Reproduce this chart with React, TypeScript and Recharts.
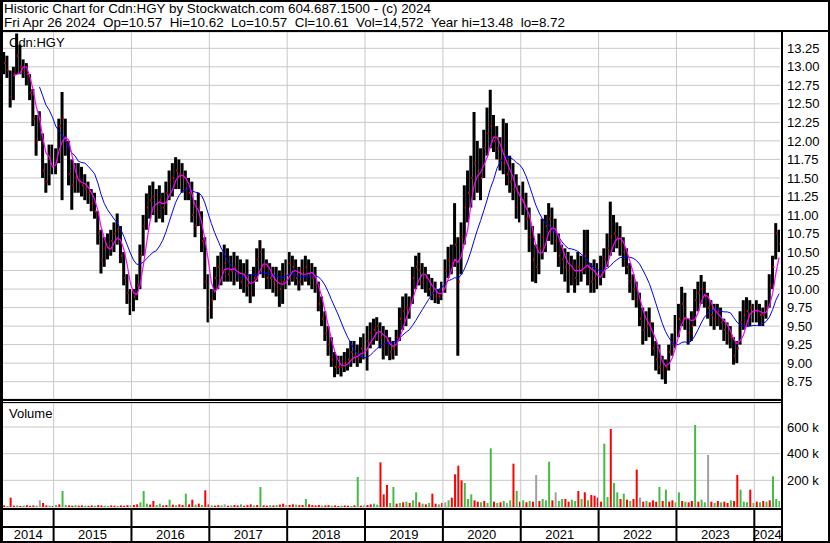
import {
  ComposedChart,
  Bar,
  Line,
  XAxis,
  YAxis,
  CartesianGrid,
  ReferenceLine,
  Cell,
} from "recharts";

// half-month bars, May 2014 .. Apr 2024
const START = 2014.36;
const STEP = 1 / 24;
const DOMAIN: [number, number] = [2014.35, 2024.33];

const HIGH = [
  13.2, 13.15, 12.95, 13.0, 13.45, 13.3, 13.1, 13.05, 12.9, 12.7, 12.35, 12.4, 12.1, 11.7, 11.95, 11.95, 11.9, 12.3, 12.66, 12.3, 12.0, 11.75, 11.7, 11.7,
  11.65, 11.55, 11.45, 11.35, 11.3, 11.05, 10.8, 10.7, 10.75, 10.8, 10.9, 11.02, 10.85, 10.5, 10.2, 10.0, 10.0, 10.2, 10.6, 11.0, 11.29, 11.4, 11.45, 11.35,
  11.4, 11.3, 11.45, 11.6, 11.7, 11.78, 11.75, 11.7, 11.6, 11.5, 11.45, 11.2, 11.3, 11.05, 10.7, 10.2, 10.0, 10.3, 10.45, 10.5, 10.6, 10.55, 10.45, 10.5,
  10.45, 10.4, 10.35, 10.4, 10.2, 10.3, 10.55, 10.66, 10.55, 10.4, 10.35, 10.3, 10.3, 10.25, 10.35, 10.4, 10.5, 10.45, 10.4, 10.3, 10.4, 10.45, 10.4, 10.35,
  10.3, 10.1, 9.9, 9.7, 9.5, 9.35, 9.15, 9.1, 9.1, 9.15, 9.2, 9.3, 9.3, 9.25, 9.35, 9.4, 9.5, 9.55, 9.6, 9.62, 9.55, 9.5, 9.45, 9.35,
  9.3, 9.45, 9.75, 9.9, 9.94, 9.9, 10.3, 10.45, 10.49, 10.35, 10.3, 10.2, 10.15, 10.1, 10.0, 10.1, 10.4, 10.57, 10.6, 11.16, 10.7, 10.9, 11.4, 11.6,
  11.8, 12.39, 12.0, 11.9, 12.15, 12.45, 12.69, 12.35, 12.2, 12.05, 12.3, 12.24, 11.8, 11.7, 11.55, 11.4, 11.45, 11.3, 11.1, 10.85, 10.6, 10.75, 10.95, 11.0,
  11.16, 11.1, 10.95, 10.75, 10.6, 10.55, 10.5, 10.45, 10.4, 10.5, 10.45, 10.8, 10.8, 10.35, 10.4, 10.35, 10.45, 10.55, 10.75, 11.18, 11.0, 10.9, 10.85, 10.7,
  10.55, 10.35, 10.2, 10.1, 9.95, 9.75, 9.7, 9.75, 9.55, 9.3, 9.25, 9.1, 9.05, 9.25, 9.4, 9.65, 9.8, 10.03, 9.95, 9.6, 9.7, 10.0, 10.1, 10.19,
  10.1, 9.95, 9.85, 9.8, 9.8, 9.75, 9.6, 9.55, 9.5, 9.35, 9.3, 9.7, 9.85, 9.89, 9.85, 9.8, 9.85, 9.8, 9.75, 9.85, 10.2, 10.45, 10.89, 10.8,
];

const LOW = [
  12.9, 12.85, 12.45, 12.55, 12.9, 12.9, 12.85, 12.75, 12.55, 12.2, 11.8, 12.0, 11.5, 11.3, 11.4, 11.55, 11.55, 11.7, 11.2, 11.8, 11.4, 11.07, 11.3, 11.3,
  11.25, 11.2, 11.15, 11.05, 10.95, 10.6, 10.21, 10.3, 10.4, 10.45, 10.5, 10.6, 10.35, 10.05, 9.8, 9.65, 9.7, 9.85, 10.0, 10.45, 10.8, 10.95, 11.0, 10.9,
  10.95, 10.9, 11.0, 11.2, 11.25, 11.35, 11.35, 11.3, 11.2, 11.2, 10.9, 10.7, 10.85, 10.5, 10.0, 9.55, 9.6, 9.85, 10.0, 10.05, 10.1, 10.1, 10.1, 10.05,
  10.1, 10.0, 9.95, 9.9, 9.81, 9.9, 10.1, 10.2, 10.15, 10.0, 10.0, 9.95, 9.9, 9.76, 9.8, 10.0, 10.05, 10.1, 10.05, 9.98, 10.05, 10.1, 10.05, 10.0,
  9.95, 9.7, 9.5, 9.3, 9.1, 8.95, 8.81, 8.85, 8.82, 8.88, 8.9, 8.95, 9.0, 8.95, 9.0, 9.05, 8.9, 9.2, 9.25, 9.3, 9.2, 9.05, 9.1, 9.04,
  9.05, 9.1, 9.3, 9.45, 9.5, 9.6, 9.8, 10.0, 10.05, 10.0, 9.95, 9.9, 9.85, 9.81, 9.8, 9.85, 9.95, 10.15, 10.2, 10.3, 9.1, 10.2, 10.6, 10.9,
  11.1, 11.2, 11.3, 11.2, 11.5, 11.8, 11.9, 11.85, 11.75, 11.6, 11.55, 11.4, 11.3, 11.2, 10.95, 10.9, 11.0, 10.8, 10.5, 10.1, 10.08, 10.2, 10.4, 10.5,
  10.65, 10.6, 10.5, 10.3, 10.2, 10.1, 9.95, 10.05, 9.95, 10.05, 10.1, 10.2, 10.05, 9.95, 9.95, 10.0, 10.05, 10.15, 10.3, 10.45, 10.5, 10.55, 10.45, 10.3,
  10.2, 9.95, 9.85, 9.75, 9.5, 9.25, 9.3, 9.35, 9.1, 8.9, 8.85, 8.78, 8.72, 8.9, 9.1, 9.2, 9.35, 9.5, 9.45, 9.25, 9.3, 9.5, 9.7, 9.8,
  9.75, 9.6, 9.5, 9.45, 9.5, 9.45, 9.3, 9.25, 9.2, 8.98, 9.0, 9.25, 9.45, 9.5, 9.5, 9.55, 9.55, 9.5, 9.5, 9.6, 9.75, 10.0, 10.4, 10.5,
];

const CLOSE = [
  13.05, 12.95, 12.6, 12.9, 13.15, 13.0, 12.95, 12.9, 12.65, 12.3, 12.0, 12.3, 11.6, 11.45, 11.8, 11.75, 11.7, 12.2, 12.3, 12.0, 11.55, 11.4, 11.5, 11.45,
  11.4, 11.35, 11.3, 11.15, 11.05, 10.75, 10.4, 10.55, 10.55, 10.65, 10.75, 10.8, 10.45, 10.15, 9.95, 9.8, 9.9, 10.05, 10.45, 10.85, 11.1, 11.2, 11.25, 11.05,
  11.2, 11.1, 11.3, 11.45, 11.5, 11.6, 11.55, 11.5, 11.35, 11.3, 11.0, 10.85, 11.1, 10.65, 10.1, 9.75, 9.85, 10.15, 10.3, 10.25, 10.35, 10.2, 10.25, 10.3,
  10.2, 10.1, 10.2, 10.05, 9.95, 10.15, 10.4, 10.5, 10.3, 10.15, 10.15, 10.1, 10.05, 10.0, 10.1, 10.2, 10.35, 10.3, 10.15, 10.1, 10.25, 10.3, 10.2, 10.15,
  10.05, 9.8, 9.6, 9.4, 9.25, 9.05, 8.95, 8.95, 8.95, 9.0, 9.05, 9.15, 9.1, 9.05, 9.2, 9.2, 9.3, 9.4, 9.45, 9.5, 9.35, 9.25, 9.3, 9.15,
  9.2, 9.35, 9.6, 9.7, 9.75, 9.8, 10.15, 10.3, 10.25, 10.1, 10.15, 10.0, 9.95, 9.9, 9.9, 10.0, 10.25, 10.4, 10.35, 10.6, 10.1, 10.7, 11.1, 11.3,
  11.5, 11.7, 11.6, 11.5, 11.9, 12.1, 12.2, 12.0, 11.9, 11.75, 11.7, 11.55, 11.45, 11.35, 11.1, 11.15, 11.2, 10.95, 10.7, 10.4, 10.3, 10.55, 10.7, 10.85,
  10.95, 10.8, 10.65, 10.45, 10.4, 10.3, 10.25, 10.3, 10.15, 10.3, 10.25, 10.45, 10.3, 10.1, 10.15, 10.2, 10.2, 10.4, 10.55, 10.7, 10.75, 10.7, 10.6, 10.5,
  10.3, 10.1, 10.0, 9.85, 9.6, 9.45, 9.5, 9.55, 9.2, 9.05, 8.95, 8.9, 8.95, 9.15, 9.25, 9.45, 9.6, 9.8, 9.6, 9.4, 9.5, 9.85, 9.95, 10.0,
  9.9, 9.75, 9.65, 9.6, 9.7, 9.55, 9.45, 9.4, 9.35, 9.1, 9.2, 9.55, 9.65, 9.7, 9.75, 9.7, 9.7, 9.65, 9.65, 9.75, 10.05, 10.3, 10.75, 10.61,
];

// biggest daily volume in each half month, thousands of shares
const VOLUME = [
  12, 8, 70, 10, 12, 8, 10, 14, 9, 12, 10, 50, 30, 12, 10, 8, 15, 20, 120, 15, 12, 10, 14, 10,
  12, 10, 9, 12, 10, 14, 12, 10, 8, 12, 10, 9, 12, 10, 14, 12, 15, 20, 35, 120, 25, 18, 45, 15,
  25, 12, 15, 55, 18, 14, 20, 15, 100, 20, 55, 18, 25, 15, 125, 20, 12, 10, 14, 12, 20, 10, 12, 15,
  12, 20, 10, 14, 20, 12, 15, 150, 12, 10, 14, 12, 15, 18, 25, 14, 15, 20, 18, 14, 15, 60, 20, 14,
  12, 15, 10, 12, 14, 10, 12, 8, 10, 12, 10, 8, 12, 225, 10, 12, 15, 20, 25, 18, 335, 95, 165, 30,
  150, 25, 30, 35, 40, 30, 50, 110, 35, 25, 20, 30, 100, 25, 20, 30, 35, 50, 70, 245, 310, 200, 180, 60,
  95, 50, 40, 35, 45, 30, 440, 40, 30, 35, 45, 30, 50, 325, 120, 40, 50, 35, 45, 40, 240, 45, 60, 50,
  340, 50, 110, 45, 60, 60, 40, 55, 45, 120, 60, 110, 50, 90, 85, 70, 40, 475, 75, 585, 180, 110, 60, 100,
  55, 45, 60, 280, 70, 40, 45, 35, 50, 40, 150, 45, 130, 40, 50, 35, 110, 45, 40, 35, 45, 615, 40, 55,
  35, 390, 40, 30, 45, 35, 40, 30, 50, 45, 240, 130, 40, 35, 130, 30, 40, 35, 45, 40, 50, 230, 60, 45,
];

// u = up day, d = down day, n = unchanged
const VOL_DIR = [
  "dudd udud ddun ddud uduu ddud",
  "dudd uddu uddu dddu dduu uddu",
  "uddu dudd uddu dudd uddu ndud",
  "dudd dudu ddud uddu ddud dudd",
  "ddud dudd uddu dudu dduu dddu",
  "udud uduu dudu ddud nudd dduu",
  "uddu duud udun udud udud nduu",
  "udnu uddu udud uddd duud uudu",
  "dudd ndud ddud uddu udud dudu",
  "undu dudd uddu uudu dudu duuu",
]
  .join("")
  .replace(/ /g, "");

const PRICE_TICKS = [
  8.75, 9.0, 9.25, 9.5, 9.75, 10.0, 10.25, 10.5, 10.75, 11.0, 11.25, 11.5,
  11.75, 12.0, 12.25, 12.5, 12.75, 13.0, 13.25,
];
const VOL_TICKS = [200, 400, 600];
const YEAR_LINES = [2015, 2016, 2017, 2018, 2019, 2020, 2021, 2022, 2023, 2024];
const YEAR_LABELS = [2014, 2015, 2016, 2017, 2018, 2019, 2020, 2021, 2022, 2023, 2024];

const FONT = "'Liberation Sans', Arial, sans-serif";
const GRID = "#c8c8c8";
const DIR_COLOR: Record<string, string> = { u: "#44bb44", d: "#ff0000", n: "#a0a0a0" };

const sma = (arr: number[], n: number) =>
  arr.map((_, i) =>
    i < n - 1 ? null : arr.slice(i - n + 1, i + 1).reduce((a, b) => a + b, 0) / n
  );

const fast = sma(CLOSE, 4);
const slow = sma(CLOSE, 12);

const data = CLOSE.map((close, i) => ({
  t: START + i * STEP,
  range: [LOW[i], HIGH[i]],
  hi: HIGH[i],
  lo: LOW[i],
  close,
  fast: fast[i],
  slow: slow[i],
  vol: VOLUME[i],
  dir: VOL_DIR[i],
}));

// label ticks sit in the middle of the visible part of each year
const timeTicks = [
  ...YEAR_LINES,
  ...YEAR_LABELS.map(
    (y) => (Math.max(y, DOMAIN[0]) + Math.min(y + 1, DOMAIN[1])) / 2
  ),
].sort((a, b) => a - b);

const OhlcBar = (props: any) => {
  const { x, y, width, height, payload } = props;
  if (x == null || y == null) return null;
  const h = Math.max(height, 1);
  const span = payload.hi - payload.lo || 1;
  const cy = y + ((payload.hi - payload.close) / span) * h;
  return (
    <g>
      <rect x={x} y={y} width={width} height={h} fill="#000" />
      <rect x={x + width - 1} y={cy - 1} width={1.5} height={2} fill="#ff0000" />
    </g>
  );
};

const TimeTick = (props: any) => {
  const { x, y, payload } = props;
  const v = payload.value;
  if (Number.isInteger(v)) {
    return <line x1={x} x2={x} y1={y + 3} y2={y + 34} stroke="#000" strokeWidth={2} />;
  }
  return (
    <text x={x} y={y + 32} textAnchor="middle" fontSize={13} fontFamily={FONT} fill="#000">
      {Math.floor(v)}
    </text>
  );
};

const box = (left: number, top: number, width: number, height: number) => ({
  position: "absolute" as const,
  left,
  top,
  width,
  height,
  background: "#000",
});

export default function App() {
  return (
    <div
      style={{
        position: "absolute",
        left: 0,
        top: 0,
        width: 830,
        height: 543,
        background: "#fff",
        fontFamily: FONT,
        overflow: "hidden",
      }}
    >
      <div style={{ position: "absolute", left: 4, top: 1, fontSize: 13.4, lineHeight: "15px", whiteSpace: "pre" }}>
        Historic Chart for Cdn:HGY by Stockwatch.com 604.687.1500 - (c) 2024
      </div>
      <div style={{ position: "absolute", left: 4, top: 15, fontSize: 13.4, lineHeight: "15px", whiteSpace: "pre" }}>
        {"Fri Apr 26 2024  Op=10.57  Hi=10.62  Lo=10.57  Cl=10.61  Vol=14,572  Year hi=13.48  lo=8.72"}
      </div>

      <div style={{ position: "absolute", left: 0, top: 0 }}>
        <ComposedChart
          width={830}
          height={400}
          data={data}
          margin={{ top: 32, right: 2, left: 3, bottom: 1 }}
        >
          <CartesianGrid stroke={GRID} vertical={false} />
          <XAxis dataKey="t" type="number" domain={DOMAIN} allowDataOverflow hide />
          <YAxis
            orientation="right"
            width={48}
            domain={[8.516, 13.47]}
            allowDataOverflow
            ticks={PRICE_TICKS}
            interval={0}
            tickFormatter={(v: number) => v.toFixed(2)}
            axisLine={false}
            tickLine={false}
            tickSize={5}
            tickMargin={2}
            tick={{ fill: "#000", fontSize: 13, fontFamily: FONT }}
          />
          {YEAR_LINES.map((y) => (
            <ReferenceLine key={y} x={y} stroke={GRID} />
          ))}
          <Bar dataKey="range" barSize={3} shape={<OhlcBar />} isAnimationActive={false} />
          <Line dataKey="slow" stroke="#0000ff" strokeWidth={1} dot={false} isAnimationActive={false} />
          <Line dataKey="fast" stroke="#ff00ff" strokeWidth={1.2} dot={false} isAnimationActive={false} />
        </ComposedChart>
      </div>

      <div style={{ position: "absolute", left: 0, top: 401 }}>
        <ComposedChart
          width={830}
          height={142}
          data={data}
          margin={{ top: 2, right: 2, left: 3, bottom: 0 }}
        >
          <CartesianGrid stroke={GRID} vertical={false} />
          <XAxis
            dataKey="t"
            type="number"
            domain={DOMAIN}
            allowDataOverflow
            ticks={timeTicks}
            interval={0}
            height={36}
            axisLine={false}
            tickLine={false}
            tickSize={0}
            tickMargin={0}
            tick={<TimeTick />}
          />
          <YAxis
            orientation="right"
            width={48}
            domain={[0, 780]}
            allowDataOverflow
            ticks={VOL_TICKS}
            interval={0}
            tickFormatter={(v: number) => `${v} k`}
            axisLine={false}
            tickLine={false}
            tickSize={5}
            tickMargin={2}
            tick={{ fill: "#000", fontSize: 13, fontFamily: FONT }}
          />
          {YEAR_LINES.map((y) => (
            <ReferenceLine key={y} x={y} stroke={GRID} />
          ))}
          <Bar dataKey="vol" barSize={2} isAnimationActive={false}>
            {data.map((d, i) => (
              <Cell key={i} fill={DIR_COLOR[d.dir]} />
            ))}
          </Bar>
        </ComposedChart>
      </div>

      <div style={{ position: "absolute", left: 9, top: 35, fontSize: 13, lineHeight: "15px" }}>Cdn:HGY</div>
      <div style={{ position: "absolute", left: 9, top: 406, fontSize: 13, lineHeight: "15px" }}>Volume</div>

      {/* frame */}
      <div style={box(0, 0, 830, 2)} />
      <div style={box(0, 30, 830, 2)} />
      <div style={box(0, 0, 3, 543)} />
      <div style={box(828, 0, 2, 543)} />
      <div style={box(0, 541, 830, 2)} />
      <div style={box(781, 30, 2, 513)} />
      <div style={box(0, 399, 781, 2)} />
      <div style={box(0, 402, 781, 1)} />
      <div style={box(0, 508, 781, 2)} />
      <div style={box(0, 526, 781, 2)} />
    </div>
  );
}
